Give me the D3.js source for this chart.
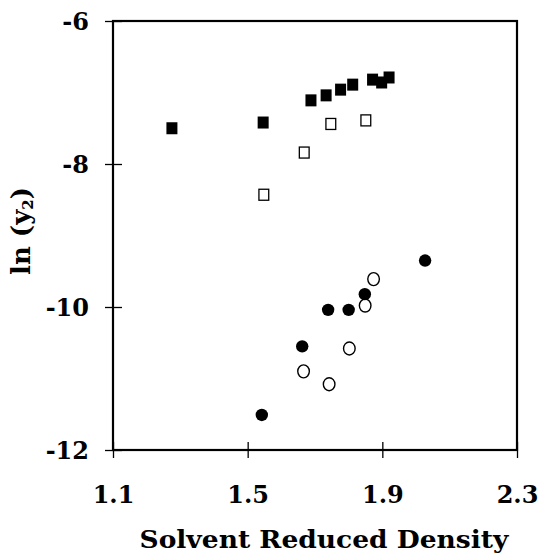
<!DOCTYPE html>
<html>
<head>
<meta charset="utf-8">
<script src="https://cdn.jsdelivr.net/npm/d3@7"></script>
<style>
  body { margin: 0; background: #fff; }
  svg { display: block; }
  .axis text { font-family: "DejaVu Serif", serif; font-weight: bold; font-size: 24px; fill: #000; }
  .axis line { stroke: #000; stroke-width: 1.3; }
  .axis .domain { display: none; }
  .lbl { font-family: "DejaVu Serif", serif; font-weight: bold; fill: #000; }
</style>
</head>
<body>
<div id="chart"></div>
<script>
// filled squares
var fsX = [1.275, 1.546, 1.688, 1.733, 1.776, 1.812, 1.871, 1.898, 1.920];
var fsY = [-7.50, -7.42, -7.11, -7.04, -6.96, -6.89, -6.82, -6.86, -6.79];
// open squares
var osX = [1.548, 1.668, 1.747, 1.851];
var osY = [-8.43, -7.84, -7.44, -7.39];
// filled circles
var fcX = [1.542, 1.662, 1.739, 1.800, 1.848, 2.027];
var fcY = [-11.51, -10.55, -10.04, -10.04, -9.82, -9.35];
// open circles
var ocX = [1.666, 1.742, 1.802, 1.849, 1.874];
var ocY = [-10.90, -11.08, -10.58, -9.98, -9.61];

var xTicks = [1.1, 1.5, 1.9, 2.3];
var yTicks = [-6, -8, -10, -12];

var margin = {top: 21, right: 22, bottom: 108, left: 113},
    W = 539, H = 558,
    width = W - margin.left - margin.right,
    height = H - margin.top - margin.bottom;

var x = d3.scaleLinear().domain([1.1, 2.3]).range([0, width]);
var y = d3.scaleLinear().domain([-12, -6]).range([height, 0]);

var svg = d3.select("#chart").append("svg")
    .attr("width", W)
    .attr("height", H)
  .append("g")
    .attr("transform", "translate(" + margin.left + "," + margin.top + ")");

function zip(xs, ys) { return xs.map(function(v, i) { return {x: v, y: ys[i]}; }); }

// frame
svg.append("rect")
    .attr("x", 0).attr("y", 0)
    .attr("width", width).attr("height", height)
    .attr("fill", "none").attr("stroke", "#000").attr("stroke-width", 2.2);

// axes
var xAxis = svg.append("g")
    .attr("class", "axis")
    .attr("transform", "translate(0," + height + ")")
    .call(d3.axisBottom(x).tickValues(xTicks).tickSize(8).tickPadding(28).tickFormat(d3.format(".1f")));
xAxis.selectAll(".tick line").attr("y1", -8);

var yAxis = svg.append("g")
    .attr("class", "axis")
    .call(d3.axisLeft(y).tickValues(yTicks).tickSize(8).tickPadding(16).tickFormat(function(d) { return d; }));
yAxis.selectAll(".tick line").attr("x1", 9);
yAxis.selectAll(".tick text").attr("dy", "0.36em");

// markers
var sq = 11;
svg.append("g").selectAll("rect")
    .data(zip(fsX, fsY)).enter().append("rect")
    .attr("x", function(d) { return x(d.x) - sq / 2; })
    .attr("y", function(d) { return y(d.y) - sq / 2 - 0.5; })
    .attr("width", sq).attr("height", sq + 1)
    .attr("fill", "#000");

svg.append("g").selectAll("rect")
    .data(zip(osX, osY)).enter().append("rect")
    .attr("x", function(d) { return x(d.x) - sq / 2 + 0.6; })
    .attr("y", function(d) { return y(d.y) - sq / 2; })
    .attr("width", sq - 1.2).attr("height", sq)
    .attr("fill", "#fff").attr("stroke", "#000").attr("stroke-width", 1.3);

svg.append("g").selectAll("circle")
    .data(zip(fcX, fcY)).enter().append("circle")
    .attr("cx", function(d) { return x(d.x); })
    .attr("cy", function(d) { return y(d.y); })
    .attr("r", 6.2)
    .attr("fill", "#000");

svg.append("g").selectAll("ellipse")
    .data(zip(ocX, ocY)).enter().append("ellipse")
    .attr("cx", function(d) { return x(d.x); })
    .attr("cy", function(d) { return y(d.y); })
    .attr("rx", 5.8).attr("ry", 6.5)
    .attr("fill", "none").attr("stroke", "#000").attr("stroke-width", 1.4);

// axis titles
svg.append("text")
    .attr("class", "lbl")
    .attr("x", width / 2 + 9)
    .attr("y", height + 98)
    .attr("text-anchor", "middle")
    .attr("font-size", 25)
    .attr("textLength", 369)
    .attr("lengthAdjust", "spacingAndGlyphs")
    .text("Solvent Reduced Density");

var yl = svg.append("text")
    .attr("class", "lbl")
    .attr("transform", "translate(" + (-83) + "," + (210) + ") rotate(-90)")
    .attr("text-anchor", "middle")
    .attr("font-size", 26);
yl.append("tspan").text("ln (y");
yl.append("tspan").attr("font-size", 15).attr("dy", 3).text("2");
yl.append("tspan").attr("dy", -3).text(")");
</script>
</body>
</html>
